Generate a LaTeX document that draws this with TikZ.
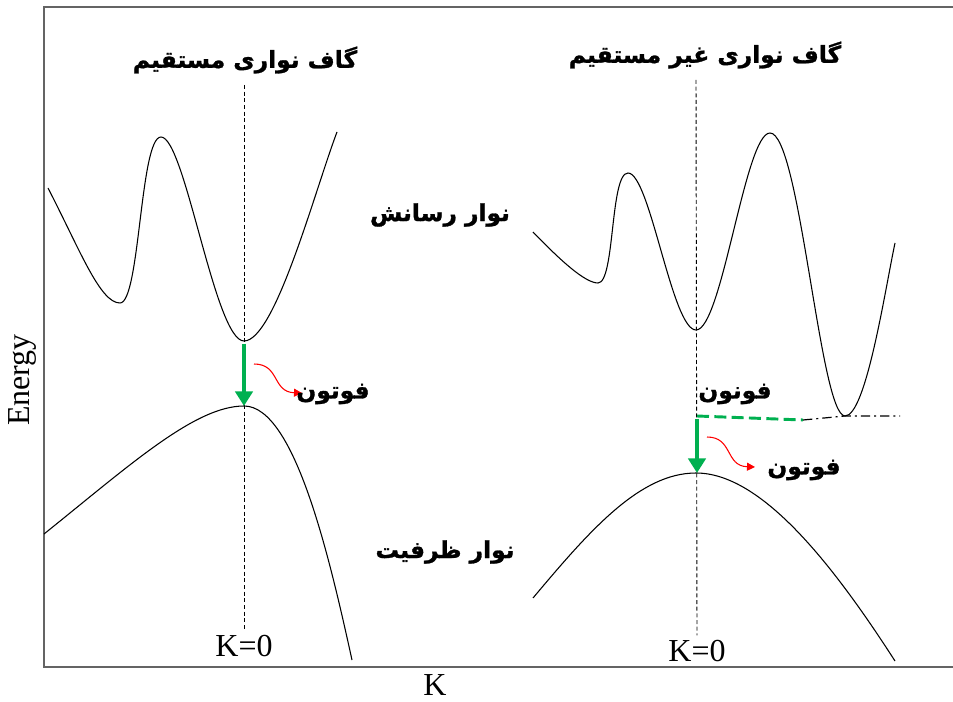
\documentclass[tikz,border=0pt]{standalone}
\usepackage{fontspec}
\setmainfont{Liberation Serif}
\newfontfamily\farsi[Script=Arabic, BoldFeatures={FakeBold=1.2}]{DejaVu Sans}
\TeXXeTstate=1
\usetikzlibrary{arrows.meta}
\definecolor{jumpgreen}{RGB}{0,176,80}
\definecolor{framegray}{RGB}{100,100,100}

\begin{document}
\begin{tikzpicture}[x=0.75pt,y=-0.75pt,
    band/.style={black, line width=0.8pt},
    kline/.style={black, line width=0.7pt, dash pattern=on 3pt off 2pt},
    jump/.style={jumpgreen, line width=3.5pt, -{Triangle[length=11pt,width=13pt]}},
    photon/.style={red, line width=0.8pt, -{Triangle[length=6pt,width=6pt]}},
    fa/.style={font=\farsi\bfseries\fontsize{17.5}{20}\selectfont},
    lat/.style={font=\fontsize{24}{28}\selectfont}]
  \useasboundingbox (0,0) rectangle (953,702);
  % axes
  \draw[framegray, line width=1.4pt] (953,7) -- (44,7) -- (44,667) -- (953,667);
  \node[lat, rotate=90] (energy) at (22,380) {Energy};
  \node[lat] (kaxis) at (435,685) {K};

  % band extrema
  \coordinate (cmin1) at (244,341);
  \coordinate (vmax1) at (244,406);
  \coordinate (cmin2) at (696,330);
  \coordinate (cmin3) at (845,416);
  \coordinate (vmax2) at (696,473);
  \coordinate (ph1) at (697,416);
  \coordinate (ph2) at (803,420);
  \coordinate (ph3) at (900,416);

  % titles and k=0 lines
  \node[fa] (direct) at (245,60) {\beginR گاف نواری مستقیم\endR};
  \node[fa] (indirect) at (705,55) {\beginR گاف نواری غیر مستقیم\endR};
  \node[lat] (k1) at (244,646) {K=0};
  \node[lat] (k2) at (697,651) {K=0};
  \draw[kline] (244,85) -- (k1.north);
  \draw[kline] (696,80) -- (k2.north);

  % direct gap bands
  \draw[band] (48,188) .. controls (80,250) and (100,303) .. (120,303)
    .. controls (140,303) and (140,137) .. (161,137)
    .. controls (185,137) and (215,341) .. (cmin1)
    .. controls (275,341) and (315,190) .. (337,132);
  \draw[band] (44,534) .. controls (130,465) and (195,406) .. (vmax1)
    .. controls (295,406) and (330,560) .. (352,660);

  % indirect gap bands
  \draw[band] (533,232) .. controls (560,260) and (585,283) .. (598,283)
    .. controls (615,283) and (610,173) .. (628,173)
    .. controls (650,173) and (672,330) .. (cmin2)
    .. controls (722,330) and (745,133) .. (770,133)
    .. controls (800,133) and (820,416) .. (cmin3)
    .. controls (866,416) and (885,290) .. (895,243);
  \draw[band] (533,598) .. controls (590,530) and (640,473) .. (vmax2)
    .. controls (760,473) and (830,560) .. (895,661);

  % transitions
  \draw[jump] ([yshift=-2pt]cmin1) -- (vmax1);
  \draw[photon] (254,364) .. controls (280,364) and (272,392) .. (302,393);
  \node[fa] (photonA) at (333,394) {\beginR فوتون\endR};

  \draw[jumpgreen, line width=2.2pt, dash pattern=on 9pt off 4pt] (ph1) -- (ph2);
  \draw[black, line width=0.9pt, dash pattern=on 7pt off 3pt on 1.5pt off 3pt] (ph2) -- (cmin3) -- (ph3);
  \node[fa] (phonon) at (735,394) {\beginR فونون\endR};
  \draw[jump] ([yshift=-2pt]ph1) -- (ph1 |- vmax2);
  \draw[photon] (707,437) .. controls (733,437) and (725,466) .. (755,467);
  \node[fa] (photonB) at (804,470) {\beginR فوتون\endR};

  \node[fa] (cband) at (440,215) {\beginR نوار رسانش\endR};
  \node[fa] (vband) at (445,552) {\beginR نوار ظرفیت\endR};
\end{tikzpicture}
\end{document}
